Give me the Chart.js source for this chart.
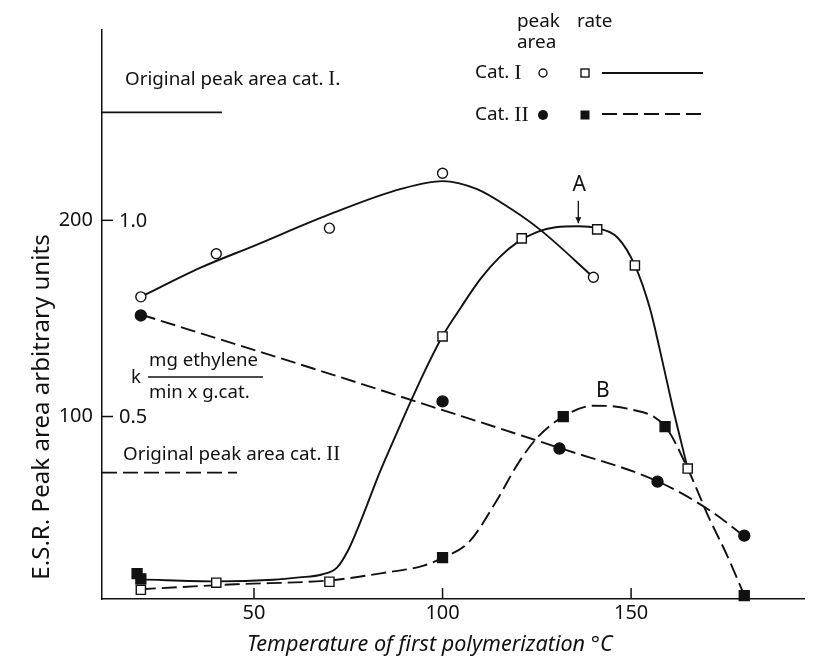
<!DOCTYPE html>
<html><head><meta charset="utf-8">
<script src="https://cdn.jsdelivr.net/npm/chart.js@4.4.0/dist/chart.umd.min.js"></script>
<style>html,body{margin:0;padding:0;background:#fff}#wrap{width:813px;height:662px}</style>
</head><body><div id="wrap"><canvas id="c" width="813" height="662"></canvas></div>
<script>
// ---- data (temperature °C, arbitrary units) ----
const xTicks = [50, 100, 150];
const yTicks = [100, 200];
const yRightLabels = {100: '0.5', 200: '1.0'};

const catIAreaT = [20, 40, 70, 100, 140];
const catIAreaV = [161, 183, 196, 224, 171];
const catIIAreaT = [20, 100, 131, 157, 180];
const catIIAreaV = [151.5, 107.7, 83.7, 66.8, 39.3];
const catIRateT = [20, 40, 70, 100, 121, 141, 151, 165];
const catIRateV = [11.7, 15.3, 15.8, 140.8, 190.8, 195.4, 177, 73.5];
const catIIRateT = [19, 20, 100, 132, 159, 180];
const catIIRateV = [19.9, 17.3, 28.1, 100, 94.9, 8.7];

// hand-drawn fitted curves
const catIAreaCurveT = [20, 36, 50, 70, 89, 100, 109, 118, 126, 140];
const catIAreaCurveV = [161, 176, 187, 203, 216, 220, 216, 206, 195, 171];
const catIIAreaCurveT = [20, 73, 94, 131, 157, 171, 180];
const catIIAreaCurveV = [152, 120, 107, 84, 67, 52, 39];
const catIRateCurveT = [20, 40, 55, 62, 68, 72, 75, 77.3, 80, 82.6, 85, 90, 95, 100, 105, 110, 115, 120, 125, 130, 136, 141, 146.5, 151, 155, 157.5, 161, 165];
const catIRateCurveV = [17, 16, 16.8, 18, 19.5, 23, 32, 42, 55, 68, 79, 101, 122, 141, 156, 170, 181, 189, 194, 196.5, 197, 196, 191, 177, 155, 135, 105, 73.5];
const catIIRateCurveT = [20, 45, 70, 85, 95, 100, 107, 114, 120, 125, 132, 140, 149, 159, 165, 170.5, 175.5, 180];
const catIIRateCurveV = [12, 14.5, 16.5, 20.5, 24, 28, 36, 56, 76, 89, 100, 105.5, 104, 95, 73.5, 49, 29, 9];

const origCatIT = [9.7, 41.5], origCatIV = [255, 255];
const origCatIIT = [9.7, 45.5], origCatIIV = [71.4, 71.4];

const X_MIN = 9.7, X_MAX = 196, Y_MIN = 7, Y_MAX = 297;

const FONT = '"Noto Sans", "DejaVu Sans", sans-serif';
const SERIF = '"Liberation Serif", "DejaVu Serif", serif';
const INK = '#111';
const LW = 1.9;
const DASH = [15, 6];

function pts(t, v) { return t.map((x, i) => ({x, y: v[i]})); }

const curve = (t, v, dash) => ({
  data: pts(t, v), showLine: true, pointRadius: 0, borderColor: INK, borderWidth: LW,
  borderDash: dash || [], cubicInterpolationMode: 'monotone', fill: false, clip: false
});
const marks = (t, v, style, filled, r) => ({
  data: pts(t, v), showLine: false, pointStyle: style, pointRadius: r, pointHoverRadius: r,
  pointBackgroundColor: filled ? INK : '#fff', pointBorderColor: INK, pointBorderWidth: 1.4, clip: false
});

function fitSize(ctx, text, width, style) {
  ctx.font = (style || '') + ' 100px ' + FONT;
  return 100 * width / ctx.measureText(text).width;
}
function seg(ctx, parts, x, y) {
  let cx = x;
  for (const p of parts) { ctx.font = p.f; ctx.fillText(p.t, cx, y); cx += ctx.measureText(p.t).width; }
}

const deco = {
  id: 'deco',
  afterDraw(chart) {
    const ctx = chart.ctx, xs = chart.scales.x, ys = chart.scales.y;
    const left = chart.chartArea.left, bottom = chart.chartArea.bottom;
    ctx.save();
    ctx.strokeStyle = INK; ctx.fillStyle = INK; ctx.lineWidth = 1.5;
    // inward tick marks
    xTicks.forEach(v => { const px = xs.getPixelForValue(v); ctx.beginPath(); ctx.moveTo(px, bottom); ctx.lineTo(px, bottom - 11); ctx.stroke(); });
    yTicks.forEach(v => { const py = ys.getPixelForValue(v); ctx.beginPath(); ctx.moveTo(left, py); ctx.lineTo(left + 11, py); ctx.stroke(); });
    ctx.textBaseline = 'middle'; ctx.textAlign = 'left';
    const f20 = '20px ' + FONT;
    yTicks.forEach(v => { ctx.font = f20; ctx.fillText(yRightLabels[v], left + 17, ys.getPixelForValue(v) + 1); });

    const so = fitSize(ctx, 'Original peak area cat. I.', 215);
    const fo = so.toFixed(1) + 'px ' + FONT, fso = (so * 1.1).toFixed(1) + 'px ' + SERIF;
    seg(ctx, [{t: 'Original peak area cat. ', f: fo}, {t: 'I.', f: fso}], 125, 80);
    seg(ctx, [{t: 'Original peak area cat. ', f: fo}, {t: 'II', f: fso}], 123, 455);
    // k fraction
    const sk = fitSize(ctx, 'mg ethylene', 109);
    const fk = sk.toFixed(1) + 'px ' + FONT;
    ctx.font = fk; ctx.fillText('k', 131, 378);
    ctx.fillText('mg ethylene', 149, 361);
    ctx.fillText('min x g.cat.', 149, 393);
    ctx.lineWidth = 1.3; ctx.beginPath(); ctx.moveTo(148, 377); ctx.lineTo(263, 377); ctx.stroke();

    // legend
    const sl = fitSize(ctx, 'peak', 43);
    const fl = sl.toFixed(1) + 'px ' + FONT, fls = (sl * 1.15).toFixed(1) + 'px ' + SERIF;
    ctx.font = fl;
    ctx.fillText('peak', 517, 22); ctx.fillText('rate', 577, 22); ctx.fillText('area', 517, 43);
    seg(ctx, [{t: 'Cat. ', f: fl}, {t: 'I', f: fls}], 475, 73);
    seg(ctx, [{t: 'Cat. ', f: fl}, {t: 'II', f: fls}], 475, 115);
    ctx.lineWidth = 1.4;
    ctx.beginPath(); ctx.arc(543, 73, 4, 0, Math.PI * 2); ctx.fillStyle = '#fff'; ctx.fill(); ctx.stroke();
    ctx.fillStyle = INK;
    ctx.beginPath(); ctx.arc(543, 115, 5, 0, Math.PI * 2); ctx.fill();
    ctx.strokeRect(581, 69, 8, 8);
    ctx.fillRect(580.5, 110.5, 9, 9);
    ctx.lineWidth = LW;
    ctx.beginPath(); ctx.moveTo(602, 73); ctx.lineTo(703, 73); ctx.stroke();
    ctx.setLineDash(DASH); ctx.beginPath(); ctx.moveTo(602, 114); ctx.lineTo(703, 114); ctx.stroke(); ctx.setLineDash([]);

    // A and B labels with arrow
    ctx.textAlign = 'center'; ctx.font = '21px ' + FONT;
    const ax = xs.getPixelForValue(136);
    ctx.fillText('A', ax + 1, ys.getPixelForValue(218));
    ctx.lineWidth = 1.3;
    const a1 = ys.getPixelForValue(210), a2 = ys.getPixelForValue(198.5);
    ctx.beginPath(); ctx.moveTo(ax, a1); ctx.lineTo(ax, a2); ctx.stroke();
    ctx.beginPath(); ctx.moveTo(ax - 3, a2 - 6); ctx.lineTo(ax, a2); ctx.lineTo(ax + 3, a2 - 6); ctx.closePath(); ctx.fill();
    ctx.fillText('B', xs.getPixelForValue(142.5), ys.getPixelForValue(113));

    // axis titles
    const tx = 'Temperature of first polymerization °C';
    const st = fitSize(ctx, tx, 366, 'italic');
    ctx.font = 'italic ' + st.toFixed(1) + 'px ' + FONT; ctx.textAlign = 'left';
    ctx.fillText(tx, 247, 645);
    const ty = 'E.S.R. Peak area arbitrary units';
    const sy = fitSize(ctx, ty, 345);
    ctx.save(); ctx.translate(42, 407); ctx.rotate(-Math.PI / 2); ctx.textAlign = 'center';
    ctx.font = sy.toFixed(1) + 'px ' + FONT; ctx.fillText(ty, 0, 0); ctx.restore();
    ctx.restore();
  }
};

new Chart(document.getElementById('c'), {
  type: 'scatter',
  data: { datasets: [
    marks(catIAreaT, catIAreaV, 'circle', false, 5),
    marks(catIIAreaT, catIIAreaV, 'circle', true, 5.5),
    marks(catIRateT, catIRateV, 'rect', false, 6.5),
    marks(catIIRateT, catIIRateV, 'rect', true, 7),
    curve(catIAreaCurveT, catIAreaCurveV),
    curve(catIIAreaCurveT, catIIAreaCurveV, DASH),
    curve(catIRateCurveT, catIRateCurveV),
    curve(catIIRateCurveT, catIIRateCurveV, DASH),
    curve(origCatIT, origCatIV),
    curve(origCatIIT, origCatIIV, DASH)
  ]},
  options: {
    responsive: false, animation: false, devicePixelRatio: 1,
    layout: { padding: { left: 0, top: 30, right: 8, bottom: 0 } },
    plugins: { legend: { display: false }, tooltip: { enabled: false } },
    scales: {
      x: {
        type: 'linear', min: X_MIN, max: X_MAX,
        afterBuildTicks: s => { s.ticks = xTicks.map(v => ({value: v})); },
        afterFit: s => { s.height = 63; },
        grid: { display: false, drawTicks: false },
        border: { display: true, color: INK, width: 1.5 },
        ticks: { color: INK, font: { size: 20, family: FONT }, padding: 2, maxRotation: 0, autoSkip: false }
      },
      y: {
        type: 'linear', min: Y_MIN, max: Y_MAX,
        afterBuildTicks: s => { s.ticks = yTicks.map(v => ({value: v})); },
        afterFit: s => { s.width = 102; },
        grid: { display: false, drawTicks: false },
        border: { display: true, color: INK, width: 1.5 },
        ticks: { color: INK, font: { size: 20, family: FONT }, padding: 9, autoSkip: false }
      }
    }
  },
  plugins: [deco]
});
</script></body></html>
